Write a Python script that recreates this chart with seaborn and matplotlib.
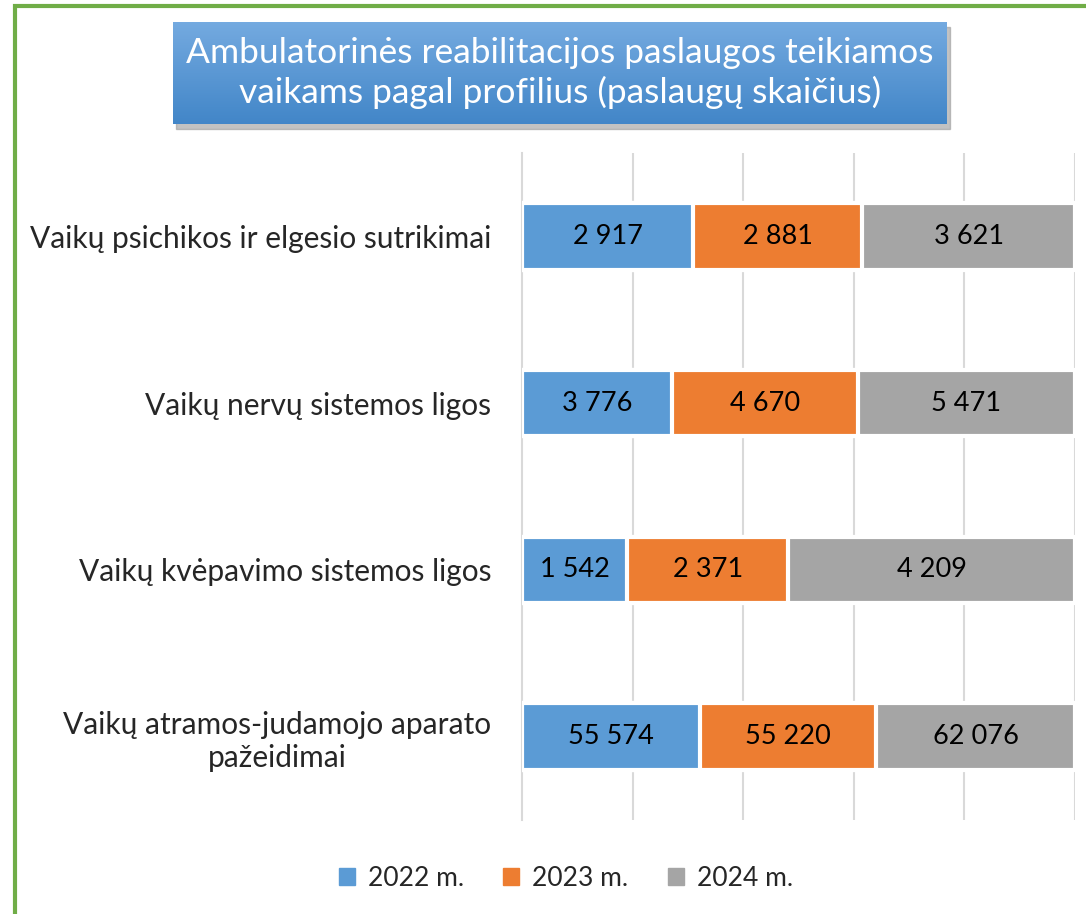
import matplotlib.pyplot as plt
import matplotlib.patches as mpatches
import numpy as np
import pandas as pd
import seaborn as sns

# Data
categories = [
    "Vaikų psichikos ir elgesio sutrikimai",
    "Vaikų nervų sistemos ligos",
    "Vaikų kvėpavimo sistemos ligos",
    "Vaikų atramos-judamojo aparato\npažeidimai",
]
years = ["2022 m.", "2023 m.", "2024 m."]
values_2022 = [2917, 3776, 1542, 55574]
values_2023 = [2881, 4670, 2371, 55220]
values_2024 = [3621, 5471, 4209, 62076]
colors = ["#5B9BD5", "#ED7D31", "#A5A5A5"]

title = "Ambulatorinės reabilitacijos paslaugos teikiamos\nvaikams pagal profilius (paslaugų skaičius)"

FONT = "Lato"


def fmt(v):
    return f"{v:,}".replace(",", " ")


df = pd.DataFrame({"category": categories,
                   years[0]: values_2022,
                   years[1]: values_2023,
                   years[2]: values_2024})
totals = df[years].sum(axis=1)
shares = df[years].div(totals, axis=0)
cum = shares.cumsum(axis=1)

sns.set_theme(style="white")
plt.rcParams["font.family"] = [FONT, "DejaVu Sans"]

fig = plt.figure(figsize=(10.86, 9.14), dpi=100)
ax = fig.add_axes([522 / 1086, 1 - 820 / 914, 553 / 1086, 667 / 914])

# layered bars: draw the widest first so each series sits on top of the next
for i in reversed(range(len(years))):
    sns.barplot(x=cum[years[i]], y=df["category"], color=colors[i], orient="h",
                width=0.40, edgecolor="white", linewidth=3, saturation=1,
                ax=ax, zorder=3)

# value labels in the middle of each segment
for r in range(len(categories)):
    for i, yr in enumerate(years):
        mid = cum[yr].iloc[r] - shares[yr].iloc[r] / 2
        ax.text(mid, r, fmt(df[yr].iloc[r]), ha="center", va="center",
                fontsize=19.5, color="black", zorder=5)

ax.set_xlim(0, 1)
ax.set_ylim(len(categories) - 0.5, -0.5)
ax.set_xlabel("")
ax.set_ylabel("")
ax.set_xticks([0.2, 0.4, 0.6, 0.8, 1.0])
ax.set_xticklabels([])
ax.tick_params(axis="x", length=0)
ax.grid(axis="x", color="#D9D9D9", linewidth=1.5, zorder=0)
ax.set_axisbelow(True)

ax.set_yticks(range(len(categories)))
ax.set_yticklabels(categories, fontsize=21.5, multialignment="center")
ax.set_yticks(np.arange(-0.5, len(categories), 1), minor=True)
ax.tick_params(axis="y", which="major", length=0, pad=22)
ax.tick_params(axis="y", which="minor", length=7, width=1.5, color="#D9D9D9")

for s in ["top", "right", "bottom"]:
    ax.spines[s].set_visible(False)
ax.spines["left"].set_color("#D9D9D9")
ax.spines["left"].set_linewidth(1.5)

# legend
handles = [mpatches.Patch(color=c, label=y) for c, y in zip(colors, years)]
fig.legend(handles=handles, loc="center", bbox_to_anchor=(566 / 1086, 1 - 878 / 914),
           ncol=3, frameon=False, fontsize=19, handlelength=0.6, handleheight=0.6,
           handletextpad=0.5, columnspacing=1.5)

# title box with gradient and shadow
bx0, by0, bx1, by1 = 173, 22, 947, 124
shadow = mpatches.Rectangle((bx0 / 1086 + 0.003, 1 - (by1 + 5) / 914),
                            (bx1 - bx0) / 1086, (by1 - by0) / 914,
                            transform=fig.transFigure, color="#9A9A9A", alpha=0.6,
                            zorder=-1)
fig.patches.append(shadow)
tax = fig.add_axes([bx0 / 1086, 1 - by1 / 914, (bx1 - bx0) / 1086, (by1 - by0) / 914])
tax.set_zorder(2)
top_c = np.array([116, 170, 224]) / 255
bot_c = np.array([66, 134, 200]) / 255
t = np.linspace(0, 1, 100)[:, None, None]
grad = top_c * (1 - t) + bot_c * t
tax.imshow(np.repeat(grad, 2, axis=1), aspect="auto", extent=[0, 1, 0, 1])
tax.set_axis_off()
tax.text(0.5, 0.5, title, ha="center", va="center", color="white",
         fontsize=25.5, linespacing=1.25, transform=tax.transAxes)

# green outer frame (cut off at right and bottom)
frame = mpatches.Rectangle((15 / 1086, -0.1), 1.2, 1 - 6 / 914 + 0.1,
                           transform=fig.transFigure, fill=False,
                           edgecolor="#70AD47", linewidth=3, zorder=-2)
fig.patches.append(frame)

fig.savefig("out.png", dpi=100)
